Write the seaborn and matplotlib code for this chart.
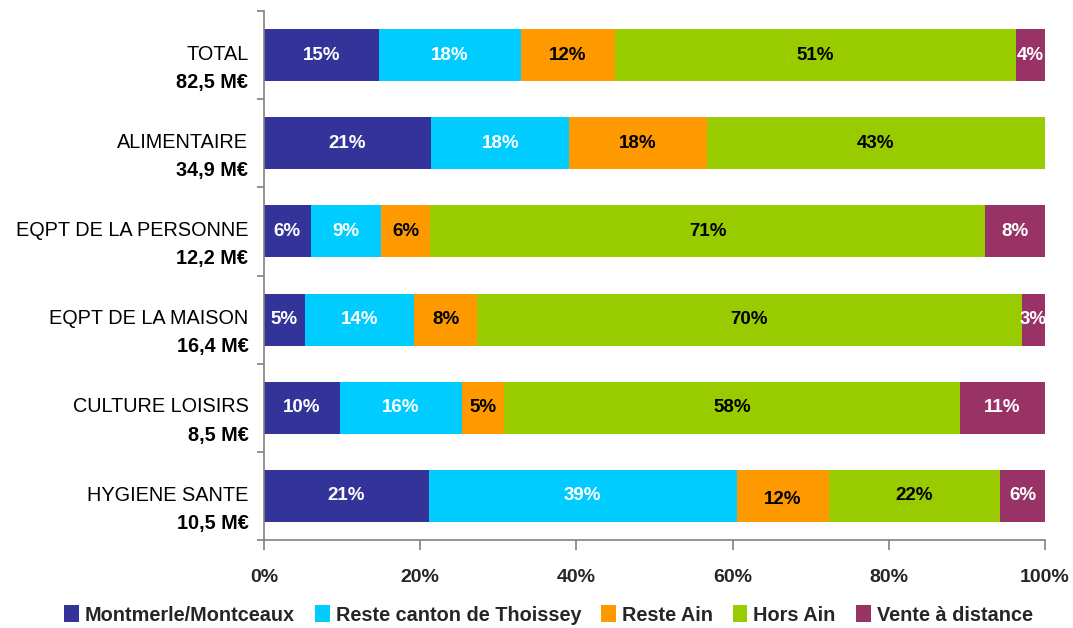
import matplotlib
matplotlib.use("Agg")
import matplotlib.pyplot as plt
import matplotlib.transforms as mtransforms
from matplotlib.patches import Patch
import numpy as np
import pandas as pd
import seaborn as sns

categories = ["TOTAL", "ALIMENTAIRE", "EQPT DE LA PERSONNE", "EQPT DE LA MAISON",
              "CULTURE LOISIRS", "HYGIENE SANTE"]
amounts = ["82,5 M€", "34,9 M€", "12,2 M€", "16,4 M€", "8,5 M€", "10,5 M€"]
series = ["Montmerle/Montceaux", "Reste canton de Thoissey", "Reste Ain", "Hors Ain", "Vente à distance"]
montmerle = [14.7, 21.4, 6.0, 5.2, 9.7, 21.1]
reste_canton = [18.2, 17.7, 9.0, 14.0, 15.6, 39.4]
reste_ain = [12.0, 17.6, 6.3, 8.1, 5.4, 11.8]
hors_ain = [51.4, 43.3, 71.0, 69.7, 58.4, 22.0]
vente = [3.7, 0.0, 7.7, 3.0, 10.9, 5.7]
xticks = [0, 20, 40, 60, 80, 100]

colors = ["#333399", "#00CCFF", "#FF9900", "#99CC00", "#993366"]
text_colors = ["white", "white", "black", "black", "white"]

sns.set_theme(style="white")
plt.rcParams["font.family"] = ["Liberation Sans", "DejaVu Sans"]

vals = np.array([montmerle, reste_canton, reste_ain, hors_ain, vente])
cum = np.cumsum(vals, axis=0)

fig = plt.figure(figsize=(10.73, 6.28), dpi=100)
ax = fig.add_axes([264 / 1073, 1 - 540 / 628, (1045 - 264) / 1073, (540 - 11) / 628])

# draw cumulative layers from largest to smallest
for i in range(len(series) - 1, -1, -1):
    df = pd.DataFrame({"cat": categories, "x": cum[i]})
    sns.barplot(data=df, x="x", y="cat", orient="h", color=colors[i],
                saturation=1, width=0.59, ax=ax, linewidth=0)

# labels inside segments
for i in range(len(series)):
    for j in range(len(categories)):
        v = vals[i, j]
        if v <= 0:
            continue
        center = cum[i, j] - v / 2
        dy = 0.04 if (i == 2 and j == 5) else 0.0
        ax.text(center, j + dy, f"{v:.0f}%", ha="center", va="center",
                color=text_colors[i], fontsize=13.5, fontweight="bold")

ax.set_xlim(0, 100)
ax.set_ylim(5.5, -0.5)
ax.set_xlabel("")
ax.set_ylabel("")
ax.set_xticks(xticks)
ax.set_xticklabels([f"{t}%" for t in xticks], fontsize=14, fontweight="bold")
ax.set_yticks(np.arange(-0.5, 6, 1))
ax.set_yticklabels([])
ax.tick_params(axis="x", bottom=True, direction="out", length=7, width=1.2,
               color="#808080", pad=14)
ax.tick_params(axis="y", left=True, direction="out", length=5, width=1.2, color="#808080")
for s in ["top", "right"]:
    ax.spines[s].set_visible(False)
for s in ["left", "bottom"]:
    ax.spines[s].set_color("#808080")
    ax.spines[s].set_linewidth(1.2)
ax.spines["left"].set_bounds(-0.5, 5.5)

trans = mtransforms.blended_transform_factory(ax.transAxes, ax.transData)
for j, (c, a) in enumerate(zip(categories, amounts)):
    ax.text(-0.02, j - 0.01, c, transform=trans, ha="right", va="center",
            fontsize=14.3, color="black")
    ax.text(-0.02, j + 0.31, a, transform=trans, ha="right", va="center",
            fontsize=14.3, fontweight="bold", color="black")

handles = [Patch(facecolor=c, edgecolor="none") for c in colors]
leg = fig.legend(handles, series, loc="center left",
                 bbox_to_anchor=(56 / 1073, 1 - 615 / 628), ncol=5, frameon=False,
                 handlelength=0.75, handleheight=0.9, handletextpad=0.3,
                 columnspacing=1.0, borderaxespad=0,
                 prop={"family": ["Liberation Sans", "DejaVu Sans"],
                       "weight": "bold", "size": 14.3})

fig.savefig("out.png", dpi=100)
